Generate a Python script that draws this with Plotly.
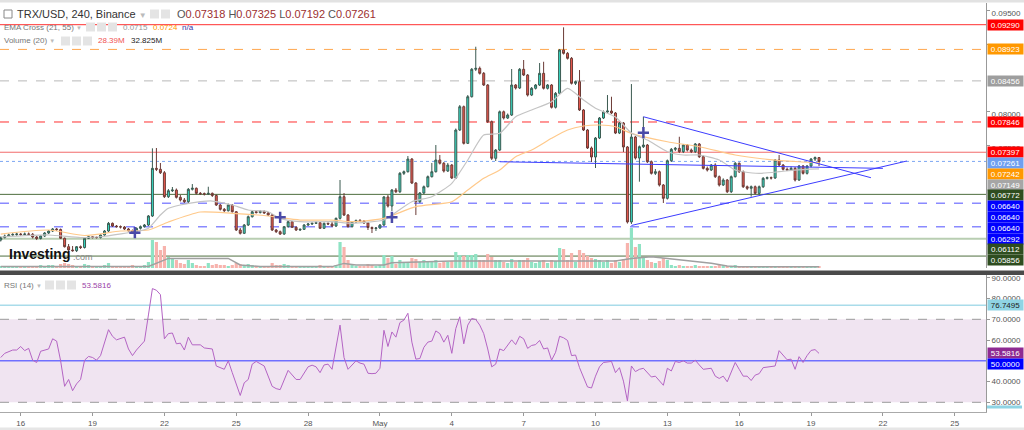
import plotly.graph_objects as go
import pandas as pd

# ------------------------------------------------------------------ data
candle_start = "2018-04-15 04:00"
candle_count = 206

opens = [0.06094,0.06131,0.06154,0.06169,0.06176,0.06183,0.06176,0.06183,0.06179,0.06139,
0.06117,0.06154,0.06198,0.06228,0.06258,0.06250,0.06120,0.05995,0.05946,0.05936,
0.05995,0.05983,0.06120,0.06143,0.06131,0.06131,0.06169,0.06228,0.06342,0.06302,
0.06292,0.06287,0.06258,0.06232,0.06203,0.06268,0.06292,0.06317,0.06451,0.07158,
0.07144,0.07093,0.06737,0.06826,0.06836,0.06728,0.06688,0.06663,0.06847,0.06862,
0.06787,0.06782,0.06777,0.06787,0.06755,0.06614,0.06550,0.06529,0.06614,0.06514,
0.06243,0.06194,0.06317,0.06440,0.06514,0.06502,0.06520,0.06495,0.06465,0.06243,
0.06218,0.06183,0.06292,0.06366,0.06283,0.06243,0.06253,0.06317,0.06332,0.06342,
0.06351,0.06268,0.06342,0.06332,0.06302,0.06416,0.06737,0.06465,0.06292,0.06362,
0.06384,0.06376,0.06347,0.06280,0.06265,0.06273,0.06317,0.06733,0.06599,0.06836,
0.06811,0.07084,0.07108,0.07296,0.06940,0.06663,0.06792,0.06885,0.07034,0.07108,
0.07282,0.07233,0.07118,0.07207,0.07015,0.07727,0.08073,0.07529,0.08221,0.08628,
0.08642,0.08568,0.08395,0.07850,0.07307,0.07430,0.07998,0.07905,0.07949,0.08395,
0.08350,0.08628,0.08543,0.08246,0.08346,0.08395,0.08568,0.08346,0.08395,0.08064,
0.08271,0.08914,0.08865,0.08791,0.08420,0.08444,0.08024,0.07727,0.07460,0.07326,
0.07608,0.07905,0.07994,0.08009,0.07979,0.07682,0.07831,0.07475,0.06362,0.07623,
0.07311,0.07479,0.07504,0.07256,0.07084,0.07108,0.06911,0.06713,0.07271,0.07440,
0.07455,0.07405,0.07504,0.07430,0.07405,0.07519,0.07331,0.07158,0.07133,0.07207,
0.07034,0.06911,0.06985,0.06811,0.07034,0.07233,0.07108,0.06885,0.06862,0.06885,
0.06787,0.06885,0.07010,0.07019,0.07015,0.07282,0.07207,0.07144,0.07133,0.07158,
0.06985,0.07193,0.07084,0.07193,0.07296,0.07318]

closes = [0.06131,0.06154,0.06169,0.06176,0.06183,0.06176,0.06183,0.06179,0.06139,0.06117,
0.06154,0.06198,0.06228,0.06258,0.06250,0.06120,0.05995,0.05946,0.05936,0.05995,
0.05983,0.06120,0.06143,0.06131,0.06131,0.06169,0.06228,0.06342,0.06302,0.06292,
0.06287,0.06258,0.06232,0.06203,0.06268,0.06292,0.06317,0.06451,0.07158,0.07144,
0.07093,0.06737,0.06826,0.06836,0.06728,0.06688,0.06663,0.06847,0.06862,0.06787,
0.06782,0.06777,0.06787,0.06755,0.06614,0.06550,0.06529,0.06614,0.06514,0.06243,
0.06194,0.06317,0.06440,0.06514,0.06502,0.06520,0.06495,0.06465,0.06243,0.06218,
0.06183,0.06292,0.06366,0.06283,0.06243,0.06253,0.06317,0.06332,0.06342,0.06351,
0.06268,0.06342,0.06332,0.06302,0.06416,0.06737,0.06465,0.06292,0.06362,0.06384,
0.06376,0.06347,0.06280,0.06265,0.06273,0.06317,0.06733,0.06599,0.06836,0.06811,
0.07084,0.07108,0.07296,0.06940,0.06663,0.06792,0.06885,0.07034,0.07108,0.07282,
0.07233,0.07118,0.07207,0.07015,0.07727,0.08073,0.07529,0.08221,0.08628,0.08642,
0.08568,0.08395,0.07850,0.07307,0.07430,0.07998,0.07905,0.07949,0.08395,0.08350,
0.08628,0.08543,0.08246,0.08346,0.08395,0.08568,0.08346,0.08395,0.08064,0.08271,
0.08914,0.08865,0.08791,0.08420,0.08444,0.08024,0.07727,0.07460,0.07326,0.07608,
0.07905,0.07994,0.08009,0.07979,0.07682,0.07831,0.07475,0.06362,0.07623,0.07311,
0.07479,0.07504,0.07256,0.07084,0.07108,0.06911,0.06713,0.07271,0.07440,0.07455,
0.07405,0.07504,0.07430,0.07405,0.07519,0.07331,0.07158,0.07133,0.07207,0.07034,
0.06911,0.06985,0.06811,0.07034,0.07233,0.07108,0.06885,0.06862,0.06885,0.06787,
0.06885,0.07010,0.07019,0.07015,0.07282,0.07207,0.07144,0.07133,0.07158,0.06985,
0.07193,0.07084,0.07193,0.07296,0.07318,0.07261]

highs = [0.06146,0.06176,0.06191,0.06198,0.06206,0.06198,0.06206,0.06206,0.06198,0.06154,
0.06169,0.06213,0.06243,0.06273,0.06273,0.06265,0.06131,0.06035,0.06005,0.06005,
0.06013,0.06131,0.06161,0.06154,0.06146,0.06183,0.06243,0.06362,0.06354,0.06317,
0.06310,0.06302,0.06273,0.06250,0.06280,0.06310,0.06332,0.06465,0.07455,0.07460,
0.07237,0.07118,0.06851,0.06881,0.06859,0.06762,0.06718,0.06866,0.06925,0.06874,
0.06807,0.06799,0.06885,0.06799,0.06770,0.06629,0.06569,0.06636,0.06629,0.06525,
0.06273,0.06332,0.06458,0.06532,0.06532,0.06540,0.06532,0.06510,0.06480,0.06258,
0.06235,0.06302,0.06384,0.06376,0.06295,0.06265,0.06332,0.06347,0.06354,0.06369,
0.06362,0.06354,0.06354,0.06362,0.06428,0.06985,0.06792,0.06480,0.06376,0.06399,
0.06406,0.06391,0.06362,0.06295,0.06287,0.06332,0.06747,0.06762,0.06851,0.06866,
0.07104,0.07126,0.07341,0.07311,0.06955,0.06807,0.06903,0.07052,0.07237,0.07504,
0.07356,0.07252,0.07237,0.07222,0.07749,0.08098,0.08090,0.08246,0.08647,0.08963,
0.08669,0.08588,0.08409,0.07868,0.07445,0.08016,0.08016,0.07972,0.08632,0.08409,
0.08647,0.08766,0.08558,0.08365,0.08409,0.08721,0.08740,0.08409,0.08409,0.08291,
0.08929,0.09251,0.08884,0.08810,0.08461,0.08617,0.08038,0.07742,0.07482,0.07623,
0.07920,0.08016,0.08246,0.08221,0.07994,0.07846,0.07846,0.07489,0.08409,0.07638,
0.07497,0.07924,0.07519,0.07274,0.07148,0.07126,0.06925,0.07289,0.07460,0.07475,
0.07627,0.07519,0.07519,0.07452,0.07534,0.07534,0.07348,0.07185,0.07222,0.07233,
0.07052,0.07010,0.07000,0.07052,0.07252,0.07245,0.07126,0.06903,0.06903,0.06903,
0.06903,0.07029,0.07037,0.07037,0.07296,0.07356,0.07222,0.07170,0.07185,0.07178,
0.07207,0.07207,0.07207,0.07311,0.07334,0.07325]

lows = [0.06072,0.06117,0.06139,0.06154,0.06154,0.06154,0.06161,0.06154,0.06117,0.06094,
0.06102,0.06139,0.06183,0.06213,0.06228,0.06109,0.05983,0.05931,0.05921,0.05916,
0.05961,0.05968,0.06109,0.06117,0.06117,0.06117,0.06154,0.06213,0.06287,0.06280,
0.06265,0.06243,0.06221,0.06183,0.06191,0.06250,0.06280,0.06302,0.06436,0.07118,
0.07074,0.06718,0.06718,0.06807,0.06710,0.06666,0.06644,0.06644,0.06829,0.06770,
0.06762,0.06755,0.06762,0.06733,0.06599,0.06532,0.06510,0.06517,0.06502,0.06228,
0.06176,0.06183,0.06302,0.06428,0.06488,0.06488,0.06480,0.06451,0.06228,0.06198,
0.06169,0.06169,0.06280,0.06273,0.06228,0.06228,0.06243,0.06302,0.06317,0.06332,
0.06258,0.06258,0.06317,0.06287,0.06287,0.06399,0.06451,0.06280,0.06280,0.06347,
0.06362,0.06332,0.06243,0.06198,0.06228,0.06258,0.06302,0.06577,0.06525,0.06792,
0.06792,0.07059,0.07096,0.06925,0.06465,0.06644,0.06777,0.06874,0.07022,0.07096,
0.07215,0.07096,0.07104,0.07000,0.07000,0.07712,0.07512,0.07519,0.08209,0.08602,
0.08550,0.08380,0.07831,0.07282,0.07267,0.07415,0.07883,0.07890,0.07935,0.08328,
0.08335,0.08528,0.08224,0.08231,0.08328,0.08380,0.08328,0.08328,0.08046,0.08046,
0.08254,0.08847,0.08773,0.08402,0.08395,0.08009,0.07712,0.07445,0.07252,0.07163,
0.07593,0.07890,0.07979,0.07964,0.07667,0.07667,0.07400,0.06339,0.06332,0.07289,
0.06960,0.07460,0.07237,0.07066,0.07059,0.06888,0.06644,0.06695,0.07252,0.07415,
0.07385,0.07385,0.07408,0.07385,0.07385,0.07311,0.07141,0.07111,0.07118,0.07015,
0.06888,0.06896,0.06792,0.06792,0.07022,0.07089,0.06866,0.06836,0.06737,0.06770,
0.06770,0.06866,0.06992,0.06992,0.07000,0.07193,0.07126,0.07118,0.07118,0.06963,
0.06970,0.07066,0.07066,0.07170,0.07267,0.07192]

volumes = [50,50,25,50,25,25,50,25,50,50,75,50,75,75,50,
100,125,100,75,50,50,
100,75,50,50,50,75,125,50,50,50,50,50,75,50,50,75,150,
700,650,450,550,275,250,200,125,100,200,125,
75,50,50,125,75,
100,75,75,50,75,125,100,
75,100,75,50,50,50,50,125,75,75,100,75,50,50,50,50,50,50,50,75,50,50,50,75,
650,525,200,
75,50,50,50,100,75,50,75,
325,250,300,
100,200,125,150,250,225,150,200,175,150,200,125,150,150,175,
400,325,300,325,325,350,200,200,350,275,200,200,
150,125,225,150,200,200,250,150,125,175,200,125,200,175,
500,475,200,375,150,450,375,300,250,225,200,150,200,125,200,150,225,
625,1000,525,600,250,200,150,125,175,250,200,
75,50,75,50,50,50,75,50,50,50,50,50,75,50,50,50,75,50,
30,35,30,25,25,20,20,25,45,35,25,25,30,40,25,35,30,45,40,28.39]

vma_idx = [0,37,42,57,60,65,83,86,89,96,98,113,154,158,163,171,178,182,185,205]
vma_val = [40,40,240,240,75,35,35,115,75,75,130,175,175,240,280,200,120,50,33,32.825]

ema21_idx = [0,12,20,25,35,37,40,42,45,50,53,58,62,67,70,75,83,88,96,98,103,108,113,117,121,
             125,129,133,138,142,146,149,154,158,162,167,171,175,180,184,186,190,195,199,205]
ema21_val = [0.06139,0.06169,0.06131,0.06143,0.06232,0.06268,0.06465,0.06565,0.06614,0.06663,
             0.06673,0.06614,0.06540,0.06514,0.06416,0.06366,0.06366,0.06342,0.06391,0.06465,
             0.06663,0.06737,0.06936,0.07282,0.07653,0.07678,0.07924,0.08024,0.08147,0.08346,
             0.08172,0.08049,0.07920,0.07682,0.07578,0.07405,0.07356,0.07356,0.07282,0.07133,
             0.07108,0.07084,0.07108,0.07133,0.07149]

ema55_idx = [0,12,21,30,37,42,50,58,67,75,83,88,96,104,113,117,121,125,129,133,138,142,146,
             150,154,158,167,175,184,192,200,205]
ema55_val = [0.06183,0.06243,0.06161,0.06228,0.06243,0.06362,0.06510,0.06491,0.06451,0.06391,
             0.06391,0.06366,0.06416,0.06589,0.06663,0.06836,0.07010,0.07133,0.07331,0.07430,
             0.07604,0.07727,0.07786,0.07801,0.07776,0.07678,0.07553,0.07479,0.07356,0.07292,
             0.07256,0.07242]

cross_times = ["2018-04-20 18:24", "2018-04-26 20:00", "2018-05-01 12:00", "2018-05-12 00:00"]
cross_prices = [0.06203, 0.06431, 0.06431, 0.07687]

trend_down_t = ["2018-05-12 00:00", "2018-05-21 12:00"]
trend_down_p = [0.07924, 0.07019]
trend_up_t = ["2018-05-11 12:00", "2018-05-23 00:00"]
trend_up_p = [0.06310, 0.07267]
trend_flat_t = ["2018-05-06 00:00", "2018-05-22 00:00"]
trend_flat_p = [0.07256, 0.07158]

rsi_idx = [0,1,3,4,5,6,7,8,9,10,12,13,14,15,16,17,18,19,20,21,22,23,24,25,27,28,29,30,31,32,33,34,
           36,37,38,39,40,41,42,43,44,45,46,47,48,50,51,53,54,56,57,58,60,61,62,63,64,66,68,69,70,
           72,73,74,75,76,77,78,79,80,81,82,83,85,86,87,88,89,90,91,92,93,94,95,96,97,98,99,100,
           101,102,103,104,105,106,107,108,109,110,111,112,113,114,115,116,117,118,119,120,121,
           122,123,124,125,126,127,128,129,130,131,132,133,134,135,136,137,138,139,140,141,142,
           143,144,145,146,147,148,149,150,151,153,154,155,156,157,158,159,160,161,162,163,164,
           166,167,168,169,170,171,172,173,174,175,176,178,179,180,181,182,184,185,186,187,188,
           189,190,191,193,194,195,196,197,198,199,200,201,202,203,204,205]
rsi_val = [51.6,53.6,55.2,55.2,56.9,54.9,56.0,50.3,49.2,54.6,55.7,60.6,59.5,50.0,37.7,41.0,35.6,
           38.9,41.0,50.3,52.1,51.6,50.3,52.5,65.0,61.8,60.1,60.6,61.4,55.7,52.5,55.2,
           59.5,72.1,84.8,84.0,81.9,60.6,63.1,63.4,58.2,58.5,55.2,61.4,57.7,57.7,56.2,55.7,47.5,
           45.9,50.0,44.3,33.3,39.4,41.0,48.4,49.7,47.5,37.7,36.6,36.1,
           45.4,43.1,41.0,41.0,44.3,47.1,47.9,47.1,44.3,48.0,48.4,45.9,67.2,51.6,45.9,48.0,50.0,
           48.9,48.4,44.0,43.8,44.0,46.4,64.7,56.9,63.9,61.4,68.4,
           69.6,72.9,59.0,50.8,51.1,56.5,59.0,59.5,64.4,63.1,59.0,62.3,53.6,65.5,71.2,58.2,67.2,
           70.4,69.9,67.2,63.1,
           55.7,47.1,48.4,55.7,54.9,57.4,60.1,57.8,61.8,60.6,56.0,57.4,57.8,59.8,55.7,56.2,50.3,
           54.1,61.8,61.1,59.8,
           52.5,52.8,46.7,41.8,37.4,36.9,42.6,47.1,49.2,49.7,44.3,46.7,40.2,30.7,47.5,44.8,45.9,
           46.4,44.3,42.2,42.6,
           38.2,46.4,45.1,49.7,49.2,50.0,48.9,48.9,50.3,48.0,45.9,46.4,42.6,41.5,42.6,39.9,49.2,
           45.9,42.6,42.6,40.5,
           43.1,43.8,46.7,47.1,47.5,54.9,52.9,50.5,50.8,45.9,52.0,49.2,52.5,55.0,55.4,53.5816]

hlevels = [0.0929, 0.08923, 0.08456, 0.07846, 0.07397, 0.07261, 0.06772, 0.0664, 0.06292, 0.06112, 0.05856]
hlevel_colors = ['#ff3030', '#ffa64d', '#b8b8b8', '#ff3030', '#f26b6b', '#7da7f2', '#4e6e3e',
                 '#8a8aff', '#8a8aff', '#b9ceb2', '#4e6e3e']
hlevel_dash = ['solid', 'dash', 'dash', 'dash', 'solid', 'dot', 'solid', 'dash', 'dash', 'solid', 'solid']
hlevel_width = [1, 1, 1, 1, 1, 1, 1, 1.5, 1.5, 2, 1]

price_labels = ["0.09290", "0.08923", "0.08456", "0.07846", "0.07397", "0.07261", "0.07242", "0.07149",
                "0.06772", "0.06640", "0.06640", "0.06640", "0.06292", "0.06112", "0.05856"]
price_label_values = [0.0929, 0.08923, 0.08456, 0.07846, 0.07397, 0.07261, 0.07242, 0.07149,
                      0.06772, 0.0664, 0.0664, 0.0664, 0.06292, 0.06112, 0.05856]
price_label_colors = ['#ff0000', '#ff9800', '#9e9e9e', '#ff0000', '#ff0000', '#6f9ff0', '#ff9800', '#a6a6a6',
                      '#2e4d1f', '#0000ff', '#0000ff', '#0000ff', '#0000ff', '#2e4d1f', '#2e4d1f']

price_ticks = [0.075, 0.080, 0.090, 0.095]      # the other ticks sit under the value labels
rsi_ticks = [30, 40, 60, 70, 80, 90]            # 50 sits under its own label
date_ticks = ["2018-04-16", "2018-04-19", "2018-04-22", "2018-04-25", "2018-04-28", "2018-05-01",
              "2018-05-04", "2018-05-07", "2018-05-10", "2018-05-13", "2018-05-16", "2018-05-19",
              "2018-05-22", "2018-05-25"]
date_tick_text = ["16", "19", "22", "25", "28", "May", "4", "7", "10", "13", "16", "19", "22", "25"]

assert len(opens) == len(closes) == len(highs) == len(lows) == len(volumes) == candle_count
assert len(rsi_idx) == len(rsi_val)

# ------------------------------------------------------------------ layout geometry
FONT = "Liberation Sans, Arial, sans-serif"
PW = 986.0          # plot width in px
PH = 409.0          # plot height in px (top margin 3, bottom margin 18)
BOT = 412.0         # px of bottom of plot area
def fx(px):
    return px / PW
def fy(py):
    return (BOT - py) / PH

MAIN_TOP, MAIN_BOT = 3.0, 268.0
RSI_TOP, RSI_BOT = 275.0, 412.0
P_MIN, P_MAX = 0.05679, 0.09612
R_MIN, R_MAX = 25.33, 91.35
V_MAX = 6625

times = pd.date_range(candle_start, periods=candle_count, freq="4h")
bar_ms = 4 * 3600 * 1000

fig = go.Figure()

# volume (base axis)
vol_colors = ['#8fe3c4' if c >= o else '#f7b3ad' for o, c in zip(opens, closes)]
fig.add_trace(go.Bar(x=times, y=volumes, width=bar_ms * 0.8,
                     marker=dict(color=vol_colors, line=dict(width=0)),
                     xaxis='x', yaxis='y', hoverinfo='skip'))
fig.add_trace(go.Scatter(x=times[vma_idx], y=vma_val, mode='lines',
                         line=dict(color='#a0a0a0', width=1.5), xaxis='x', yaxis='y', hoverinfo='skip'))

# price pane (overlay axis y3)
fig.add_trace(go.Scatter(x=times[ema55_idx], y=ema55_val, mode='lines',
                         line=dict(color='#ffc98a', width=1.2, shape='spline', smoothing=0.6),
                         xaxis='x', yaxis='y3', hoverinfo='skip'))
fig.add_trace(go.Scatter(x=times[ema21_idx], y=ema21_val, mode='lines',
                         line=dict(color='#c4c4c4', width=1.2, shape='spline', smoothing=0.6),
                         xaxis='x', yaxis='y3', hoverinfo='skip'))
fig.add_trace(go.Candlestick(x=times, open=opens, high=highs, low=lows, close=closes,
                             increasing=dict(line=dict(color='#3b5a50', width=1), fillcolor='#37dcc6'),
                             decreasing=dict(line=dict(color='#6b3b36', width=1), fillcolor='#ec5a4f'),
                             whiskerwidth=0, xaxis='x', yaxis='y3'))
for tt, pp in ((trend_down_t, trend_down_p), (trend_up_t, trend_up_p), (trend_flat_t, trend_flat_p)):
    fig.add_trace(go.Scatter(x=pd.to_datetime(tt), y=pp, mode='lines',
                             line=dict(color='#3c3cff', width=1), xaxis='x', yaxis='y3', hoverinfo='skip'))
fig.add_trace(go.Scatter(x=pd.to_datetime(cross_times), y=cross_prices, mode='markers',
                         marker=dict(symbol='cross-thin', size=8, line=dict(color='#4a4aa8', width=2.5)),
                         xaxis='x', yaxis='y3', hoverinfo='skip'))

# RSI
fig.add_trace(go.Scatter(x=times[rsi_idx], y=rsi_val, mode='lines',
                         line=dict(color='#b464c4', width=1), xaxis='x', yaxis='y2', hoverinfo='skip'))

shapes = []
# RSI band and levels
shapes.append(dict(type='rect', xref='paper', yref='y2', x0=0, x1=1, y0=30, y1=70,
                   fillcolor='#f0e4f1', line=dict(width=0), layer='below'))
for lvl, col, dash, w in ((70, '#9a9a9a', 'dash', 1), (30, '#9a9a9a', 'dash', 1),
                          (50, '#7070ff', 'solid', 1.5), (76.7495, '#a9dcea', 'solid', 1.5)):
    shapes.append(dict(type='line', xref='paper', yref='y2', x0=0, x1=1, y0=lvl, y1=lvl,
                       line=dict(color=col, width=w, dash=dash), layer='below'))
# price levels
for lvl, col, dash, w in zip(hlevels, hlevel_colors, hlevel_dash, hlevel_width):
    shapes.append(dict(type='line', xref='paper', yref='y3', x0=0, x1=1, y0=lvl, y1=lvl,
                       line=dict(color=col, width=w, dash=dash), layer='below'))
# frame decorations
shapes.append(dict(type='rect', xref='paper', yref='paper', x0=0, x1=1024 / PW, y0=fy(275), y1=fy(270.5),
                   fillcolor='#4a4a4a', line=dict(width=0)))
shapes.append(dict(type='rect', xref='paper', yref='paper', x0=0, x1=1024 / PW, y0=fy(2.5), y1=fy(0),
                   fillcolor='#e2e2e2', line=dict(width=0)))
shapes.append(dict(type='rect', xref='paper', yref='paper', x0=0, x1=1024 / PW, y0=fy(430), y1=fy(427.5),
                   fillcolor='#e6e6e6', line=dict(width=0)))
shapes.append(dict(type='rect', xref='paper', yref='paper', x0=fx(987), x1=fx(1022), y0=fy(408.5), y1=fy(405.5),
                   fillcolor='#8fd4e4', line=dict(width=0)))
# small legend icons
def icons(x_start, py, n):
    for k in range(n):
        x0 = x_start + k * 11
        shapes.append(dict(type='rect', xref='paper', yref='paper', x0=fx(x0), x1=fx(x0 + 9),
                           y0=fy(py + 4.5), y1=fy(py - 4.5), fillcolor='#e4e4e4', line=dict(width=0)))
icons(150, 14, 2)
icons(86, 27, 3)
icons(61, 41, 3)
icons(45, 285, 3)
shapes.append(dict(type='rect', xref='paper', yref='paper', x0=fx(4), x1=fx(12), y0=fy(18), y1=fy(10),
                   fillcolor='white', line=dict(color='#888', width=1)))

annotations = []
def txt(px, py, text, size=8, color='#666', anchor='left'):
    annotations.append(dict(xref='paper', yref='paper', x=fx(px), y=fy(py), text=text, showarrow=False,
                            xanchor=anchor, yanchor='middle', borderpad=0,
                            font=dict(size=size, color=color, family=FONT)))

V = "<span style='color:#9c2f2f'>%s</span>"
txt(16, 14, "TRX/USD, 240, Binance <span style='color:#bbb;font-size:8px'>▼</span>", 11, '#333')
txt(176, 14, "O" + V % "0.07318" + " H" + V % "0.07325" + " L" + V % "0.07192" + " C" + V % "0.07261", 11, '#555')
txt(3, 27, "EMA Cross (21, 55) <span style='color:#bbb;font-size:6px'>▼</span>", 8, '#777')
txt(122, 27, "0.0715", 8, '#999')
txt(152, 27, "0.0724", 8, '#ff9800')
txt(181, 27, "n/a", 8, '#3535a8')
txt(3, 41, "Volume (20) <span style='color:#bbb;font-size:6px'>▼</span>", 8, '#777')
txt(97, 41, "28.39M", 8, '#f05252')
txt(130, 41, "32.825M", 8, '#222')
txt(3, 285, "RSI (14) <span style='color:#bbb;font-size:6px'>▼</span>", 8, '#777')
txt(81, 285, "53.5816", 8, '#9b3fa8')
txt(8, 254, "<b>Investing</b>", 14, '#111')
txt(72, 257, ".com", 9, '#888')

# right-side value labels, stacked so they do not overlap
def stacked(values, vmin, vmax, top_px, bot_px, gap):
    span = bot_px - top_px
    pxs = [top_px + (vmax - v) / (vmax - vmin) * span for v in values]
    order = sorted(range(len(values)), key=lambda k: pxs[k])
    out = [0.0] * len(values)
    prev = -1e9
    for k in order:
        p = max(pxs[k], prev + gap)
        out[k] = p
        prev = p
    return [vmax - (p - top_px) / span * (vmax - vmin) for p in out]

pos = stacked(price_label_values, P_MIN, P_MAX, MAIN_TOP, MAIN_BOT, 10.8)
for t, yv, col in zip(price_labels, pos, price_label_colors):
    annotations.append(dict(xref='paper', yref='y3', x=fx(987), y=yv, text=t, showarrow=False,
                            xanchor='left', yanchor='middle', bgcolor=col, width=35, height=10,
                            borderpad=0, font=dict(size=8, color='white', family=FONT)))
rsi_labels = ["76.7495", "53.5816", "50.0000"]
rsi_label_values = [76.7495, 53.5816, 50.0]
rsi_label_bg = ['#8fd4e4', '#8e2a92', '#0000ff']
rsi_label_fg = ['#222', 'white', 'white']
rpos = stacked(rsi_label_values, R_MIN, R_MAX, RSI_TOP, RSI_BOT, 10.8)
for t, yv, bg, fg in zip(rsi_labels, rpos, rsi_label_bg, rsi_label_fg):
    annotations.append(dict(xref='paper', yref='y2', x=fx(987), y=yv, text=t, showarrow=False,
                            xanchor='left', yanchor='middle', bgcolor=bg, width=35, height=10,
                            borderpad=0, font=dict(size=8, color=fg, family=FONT)))

fig.update_layout(
    width=1024, height=430, margin=dict(l=0, r=38, t=3, b=18),
    paper_bgcolor='white', plot_bgcolor='white', showlegend=False,
    font=dict(family=FONT, size=8, color='#555'),
    shapes=shapes, annotations=annotations, hovermode=False,
    xaxis=dict(type='date', range=["2018-04-15 03:15:30", "2018-05-26 07:19:00"], anchor='y2',
               tickvals=pd.to_datetime(date_ticks), ticktext=date_tick_text,
               ticks='outside', ticklen=3, tickcolor='#999', showline=True, linecolor='#aaaaaa',
               showgrid=False, zeroline=False, rangeslider=dict(visible=False),
               tickfont=dict(size=8, color='#555', family=FONT)),
    yaxis=dict(domain=[fy(MAIN_BOT), 1], range=[0, V_MAX], visible=False, fixedrange=True),
    yaxis3=dict(overlaying='y', side='right', anchor='x', range=[P_MIN, P_MAX],
                tickvals=price_ticks, ticktext=["%.5f" % v for v in price_ticks],
                ticks='outside', ticklen=3, tickcolor='#999', showline=True, linecolor='#999',
                ticklabelshift=3,
                showgrid=False, zeroline=False, tickfont=dict(size=8, color='#555', family=FONT)),
    yaxis2=dict(domain=[0, fy(RSI_TOP)], range=[R_MIN, R_MAX], side='right', anchor='x',
                tickvals=rsi_ticks, ticktext=["%.4f" % v for v in rsi_ticks],
                ticks='outside', ticklen=3, tickcolor='#999', showline=True, linecolor='#999',
                showgrid=False, zeroline=False, tickfont=dict(size=8, color='#555', family=FONT)),
)

fig.write_html("out.html")
